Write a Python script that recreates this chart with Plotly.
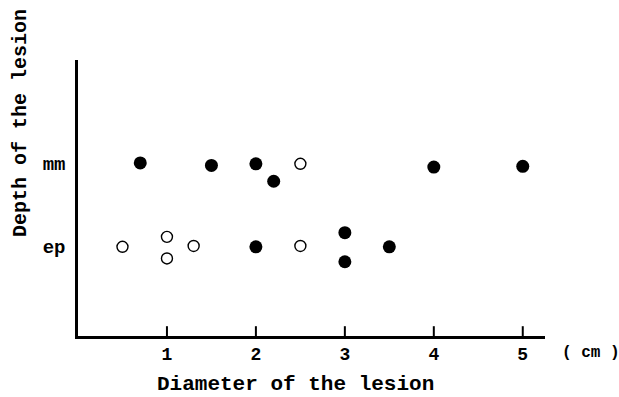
import plotly.graph_objects as go

# Data
depth_ticks = [1, 2]
depth_labels = ["ep", "mm"]
x_ticks = [1, 2, 3, 4, 5]

# filled circles (diameter cm, depth position with small vertical offsets as drawn)
filled_x = [0.7, 1.5, 2.0, 2.2, 4.0, 5.0, 2.0, 3.0, 3.0, 3.5]
filled_y = [2.00, 1.97, 1.99, 1.78, 1.95, 1.96, 0.99, 1.16, 0.81, 0.99]

# open circles
open_x = [2.5, 0.5, 1.0, 1.0, 1.3, 2.5]
open_y = [1.99, 0.99, 1.11, 0.85, 1.00, 1.00]

FONT = "Liberation Mono"
Y_RANGE = [-0.084, 3.24]

fig = go.Figure()
# upward tick marks on the x axis (lower half clipped by the plot area)
fig.add_trace(go.Scatter(
    x=x_ticks, y=[Y_RANGE[0]] * len(x_ticks), mode="markers",
    marker=dict(symbol="line-ns-open", size=14, color="black",
                line=dict(width=2, color="black")),
    cliponaxis=True, hoverinfo="skip", showlegend=False))
fig.add_trace(go.Scatter(
    x=filled_x, y=filled_y, mode="markers",
    marker=dict(size=13, color="black", line=dict(width=0)),
    showlegend=False))
fig.add_trace(go.Scatter(
    x=open_x, y=open_y, mode="markers",
    marker=dict(size=11, color="white", line=dict(width=1.4, color="black")),
    showlegend=False))

fig.update_layout(
    width=619, height=397,
    margin=dict(l=78, r=74, t=60, b=61),
    paper_bgcolor="white", plot_bgcolor="white",
    font=dict(family=FONT, color="black", size=18, weight="bold"),
    xaxis=dict(range=[0, 5.25], tickmode="array", tickvals=x_ticks, ticks="",
               showticklabels=True, showline=True, linewidth=2.5,
               linecolor="black", showgrid=False, zeroline=False,
               tickfont=dict(family=FONT, size=18, weight="bold")),
    yaxis=dict(range=Y_RANGE, tickvals=depth_ticks, ticktext=depth_labels,
               ticks="", showline=True, linewidth=2.5, linecolor="black",
               showgrid=False, zeroline=False, ticklabelstandoff=6,
               tickfont=dict(family=FONT, size=19, weight="bold")),
    annotations=[
        dict(text="Diameter of the lesion", xref="paper", yref="paper",
             x=0.466, y=-0.174, showarrow=False, xanchor="center", yanchor="middle",
             font=dict(family=FONT, size=21, weight="bold")),
        dict(text="Depth of the lesion", xref="paper", yref="paper",
             x=-0.122, y=0.772, showarrow=False, textangle=-90,
             xanchor="center", yanchor="middle",
             font=dict(family=FONT, size=20, weight="bold")),
        dict(text="( cm )", xref="paper", yref="paper",
             x=1.099, y=-0.062, showarrow=False, xanchor="center", yanchor="middle",
             font=dict(family=FONT, size=16, weight="bold")),
    ],
)

fig.write_html("out.html", config={"displayModeBar": False},
               post_script="document.body.style.margin='0';document.body.style.overflow='hidden';")
